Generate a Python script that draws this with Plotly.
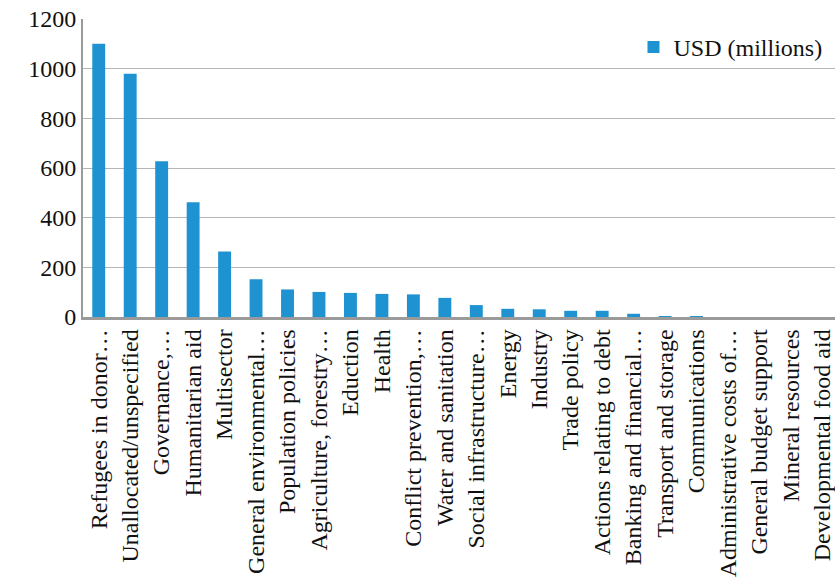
import plotly.graph_objects as go

categories = [
    "Refugees in donor…", "Unallocated/unspecified", "Governance,…", "Humanitarian aid",
    "Multisector", "General environmental…", "Population policies", "Agriculture, forestry…",
    "Eduction", "Health", "Conflict prevention,…", "Water and sanitation",
    "Social infrastructure…", "Energy", "Industry", "Trade policy",
    "Actions relating to debt", "Banking and financial…", "Transport and storage",
    "Communications", "Administrative costs of…", "General budget support",
    "Mineral resources", "Developmental food aid",
]
usd_millions = [1100, 980, 627, 462, 264, 152, 111, 101, 97, 93, 91, 77,
                48, 33, 31, 25, 25, 13, 4, 3, 0, 0, 0, 0]
y_ticks = [0, 200, 400, 600, 800, 1000, 1200]

FONT = "Liberation Serif"

fig = go.Figure()
fig.add_trace(go.Bar(
    x=categories, y=usd_millions, name="USD (millions)",
    marker=dict(color="#1F93D1", line=dict(width=0)),
    showlegend=True,
))

fig.update_layout(
    width=835, height=588,
    margin=dict(l=83, r=0, t=19, b=271),
    paper_bgcolor="white", plot_bgcolor="white",
    font=dict(family=FONT, size=24, color="#111111"),
    bargap=0.59,
    showlegend=True,
    legend=dict(x=0.99, xanchor="right", y=0.905, yanchor="middle",
                font=dict(family=FONT, size=24, color="#111111"),
                bgcolor="rgba(255,255,255,0)", itemwidth=30),
    xaxis=dict(
        type="category", range=[-0.5, 23.4], automargin=False,
        tickangle=-90, showgrid=False, ticks="",
        showline=True, linecolor="#9a9a9a", linewidth=2.5,
        tickfont=dict(family=FONT, size=24, color="#111111"),
    ),
    yaxis=dict(
        range=[0, 1200], tickvals=y_ticks, ticktext=[str(v) for v in y_ticks],
        automargin=False,
        showgrid=True, gridcolor="#b5b5b5", gridwidth=1.3,
        showline=True, linecolor="#9a9a9a", linewidth=2,
        ticks="", zeroline=False,
        tickfont=dict(family=FONT, size=24, color="#111111"),
    ),
)

fig.write_html("out.html")
